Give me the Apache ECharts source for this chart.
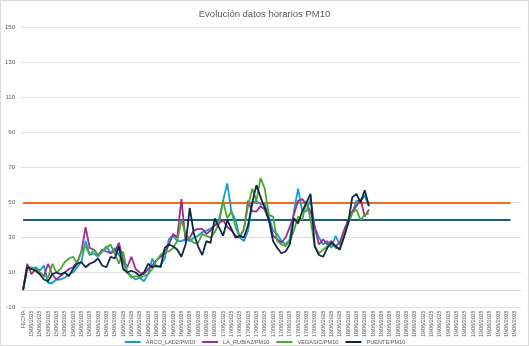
<!DOCTYPE html>
<html>
<head>
<meta charset="utf-8">
<script src="https://cdn.jsdelivr.net/npm/echarts@6/dist/echarts.min.js"></script>
<style>
  html, body { margin: 0; padding: 0; background: #fff; }
  #chart { width: 529px; height: 346px; box-sizing: border-box; border: 1px solid #d9d9d9; }
</style>
</head>
<body>
<div id="chart"></div>
<script>
// Hourly PM10 readings (µg/m³) per station, starting at the "FECHA" header row
const days = ['15/06/2025', '16/06/2025', '17/06/2025', '18/06/2025', '19/06/2025'];
const hoursShown = 119;

const arco = [0,14,12,13,11,14,4,4,6,6,7,9,10,13,16,28,20,21,19,22,25,21,24,20,16,10,8,6,7,5,9,18,13,14,18,29,31,28,28,29,28,30,31,33,34,35,37,40,51,61,45,40,30,28,34,50,51,49,49,42,34,32,28,26,29,45,58,45,45,52,36,30,26,28,24,31,26,33,38,44,51,51,54,48];
const laRubia = [0,15,9,12,10,8,15,9,6,8,10,12,13,16,22,36,24,23,20,23,22,21,22,27,17,13,19,12,10,9,12,14,17,19,21,26,32,30,52,28,30,34,35,35,32,34,37,38,40,36,34,31,30,35,51,45,45,48,46,40,31,29,27,30,36,43,51,52,49,45,36,26,29,26,28,25,27,34,40,45,48,52,42,46];
const vegasic = [0,12,13,12,10,8,7,15,10,12,16,18,19,15,22,25,20,23,20,22,24,26,21,15,22,10,7,8,7,8,9,12,17,20,22,22,24,28,40,32,29,27,27,32,31,30,33,38,51,41,45,36,30,35,48,58,51,64,58,43,42,28,26,25,28,34,42,40,51,40,25,21,23,25,27,24,24,31,38,44,46,40,43,44];
const puente = [0,13,12,11,9,6,5,9,10,9,10,8,12,15,16,13,15,16,18,14,13,19,18,25,12,10,11,10,8,10,15,13,14,13,24,26,25,23,19,26,47,32,25,20,28,27,41,36,31,40,35,30,31,30,37,50,60,53,47,40,28,24,21,22,26,41,38,45,50,55,25,20,19,24,27,25,23,30,38,53,55,50,57,48];

// Reference limits drawn as horizontal lines
const limits = [50, 40];
const limitColors = ['#EE6A26', '#156082'];
const limitEndIndex = 117;

const seriesNames = ['ARCO_LAD2/PM10', 'LA_RUBIA2/PM10', 'VEGASIC/PM10', 'PUENTE/PM10'];
const seriesColors = ['#0F9ED5', '#A02B93', '#4EA72E', '#0E2841'];
const seriesData = [arco, laRubia, vegasic, puente];

// Category labels: header row, then one entry per hour
const categories = ['FECHA'];
for (let k = 1; k <= hoursShown; k++) {
  categories.push(days[Math.floor(k / 24)] + ' ' + String(k % 24).padStart(2, '0') + ':00');
}

const font = '"Liberation Sans", Arial, sans-serif';
const grey = '#595959';

const chart = echarts.init(document.getElementById('chart'), null, { renderer: 'canvas' });

const series = seriesData.map((d, idx) => ({
  name: seriesNames[idx],
  type: 'line',
  data: d,
  symbol: 'none',
  smooth: false,
  lineStyle: { width: 1.8, color: seriesColors[idx] },
  itemStyle: { color: seriesColors[idx] },
  z: 3 + idx
}));

series[0].markLine = {
  silent: true,
  symbol: 'none',
  label: { show: false },
  z: 2,
  data: limits.map((v, i) => [
    { coord: [0, v], lineStyle: { color: limitColors[i], width: 1.8, type: 'solid' } },
    { coord: [limitEndIndex, v] }
  ])
};

chart.setOption({
  animation: false,
  backgroundColor: '#fff',
  textStyle: { fontFamily: font },
  title: {
    text: 'Evolución datos horarios PM10',
    left: 'center',
    top: 3,
    textStyle: { fontFamily: font, fontSize: 9.5, fontWeight: 'normal', color: grey }
  },
  legend: {
    data: seriesNames,
    left: 'center',
    top: 333,
    itemWidth: 16,
    itemHeight: 2,
    itemGap: 6,
    textStyle: { fontFamily: font, fontSize: 5.6, color: grey }
  },
  grid: { left: 20, right: 7, top: 26.7, bottom: 37.5, containLabel: false },
  xAxis: {
    type: 'category',
    data: categories,
    boundaryGap: true,
    axisLine: { show: true, onZero: true, lineStyle: { color: '#d9d9d9', width: 1 } },
    axisTick: { show: false },
    splitLine: { show: false },
    axisLabel: {
      interval: 1,
      rotate: 90,
      fontSize: 5.3,
      color: grey,
      margin: 3,
      fontFamily: font,
      formatter: v => v.split(' ')[0]
    }
  },
  yAxis: {
    type: 'value',
    min: -10,
    max: 150,
    interval: 20,
    axisLine: { show: false },
    axisTick: { show: false },
    splitLine: { lineStyle: { color: '#e3e3e3', width: 1 } },
    axisLabel: { fontSize: 6, color: grey, margin: 6, fontFamily: font }
  },
  series: series
});
</script>
</body>
</html>
